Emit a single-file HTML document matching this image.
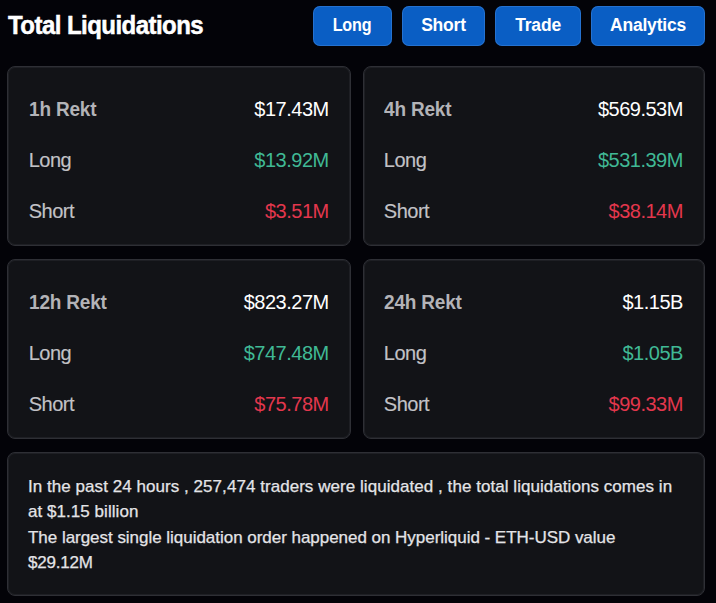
<!DOCTYPE html>
<html><head><meta charset="utf-8">
<style>
*{margin:0;padding:0;box-sizing:border-box}
html,body{width:716px;height:603px;overflow:hidden;background:#030308}
body{position:relative;font-family:"Liberation Sans",sans-serif;color:#fff}
.title{position:absolute;left:8.2px;top:9.7px;font-size:26px;font-weight:700;line-height:30px;color:#fff;letter-spacing:-0.6px;white-space:nowrap;transform-origin:0 0;transform:scaleX(0.924);-webkit-text-stroke:0.5px #fff}
.btn{position:absolute;top:6.2px;height:39.4px;background:#0a5ec4;border-radius:7px;color:#fff;font-weight:700;font-size:17.5px;line-height:39.4px;text-align:center;white-space:nowrap;letter-spacing:-0.2px;box-shadow:inset 0 0 0 1px rgba(70,140,225,0.45)}
.card{position:absolute;background:#121317;border:1px solid #2e2f35;border-radius:8px;box-shadow:inset 0 0 0 1px rgba(40,41,47,0.55)}
.row{position:absolute;left:21px;right:21px;height:24px;white-space:nowrap}
.lab{position:absolute;left:0;top:0;font-size:20px;line-height:24px;color:#c2c2c6;letter-spacing:-0.5px;-webkit-text-stroke:0.15px #c2c2c6}
.lab.h{font-weight:700;color:#b3b3b7;-webkit-text-stroke:0;letter-spacing:-0.2px;transform-origin:0 0;transform:scaleX(0.95)}
.val{position:absolute;right:0;top:0;font-size:20px;line-height:24px;color:#fff;letter-spacing:-0.5px}
.c2 .row{left:20px;right:21px}
.g{color:#40b995}
.r{color:#e3374d}
.sum{position:absolute;left:20px;top:20.8px;font-size:17px;line-height:25.4px;color:#e4e4e7;white-space:nowrap;letter-spacing:0.05px;-webkit-text-stroke:0.25px #e4e4e7}
</style></head><body>
<div class="title">Total Liquidations</div>
<div class="btn" style="left:313px;width:78.8px"><span style="display:inline-block;transform:scaleX(0.92)">Long</span></div>
<div class="btn" style="left:402px;width:83px">Short</div>
<div class="btn" style="left:495.2px;width:85.8px">Trade</div>
<div class="btn" style="left:591px;width:114px">Analytics</div>

<div class="card" style="left:6.7px;top:66px;width:344px;height:180px">
  <div class="row" style="top:30px"><span class="lab h">1h Rekt</span><span class="val">$17.43M</span></div>
  <div class="row" style="top:81px"><span class="lab">Long</span><span class="val g">$13.92M</span></div>
  <div class="row" style="top:132px"><span class="lab">Short</span><span class="val r">$3.51M</span></div>
</div>
<div class="card c2" style="left:362.8px;top:66px;width:342.1px;height:180px">
  <div class="row" style="top:30px"><span class="lab h">4h Rekt</span><span class="val">$569.53M</span></div>
  <div class="row" style="top:81px"><span class="lab">Long</span><span class="val g">$531.39M</span></div>
  <div class="row" style="top:132px"><span class="lab">Short</span><span class="val r">$38.14M</span></div>
</div>
<div class="card" style="left:6.7px;top:259px;width:344px;height:180px">
  <div class="row" style="top:30px"><span class="lab h">12h Rekt</span><span class="val">$823.27M</span></div>
  <div class="row" style="top:81px"><span class="lab">Long</span><span class="val g">$747.48M</span></div>
  <div class="row" style="top:132px"><span class="lab">Short</span><span class="val r">$75.78M</span></div>
</div>
<div class="card c2" style="left:362.8px;top:259px;width:342.1px;height:180px">
  <div class="row" style="top:30px"><span class="lab h">24h Rekt</span><span class="val">$1.15B</span></div>
  <div class="row" style="top:81px"><span class="lab">Long</span><span class="val g">$1.05B</span></div>
  <div class="row" style="top:132px"><span class="lab">Short</span><span class="val r">$99.33M</span></div>
</div>
<div class="card" style="left:7px;top:452px;width:698px;height:143.5px">
  <div class="sum">In the past 24 hours , 257,474 traders were liquidated , the total liquidations comes in<br>at $1.15 billion<br><span style="letter-spacing:-0.03px">The largest single liquidation order happened on Hyperliquid - ETH-USD value</span><br><span style="letter-spacing:-0.2px">$29.12M</span></div>
</div>
</body></html>
